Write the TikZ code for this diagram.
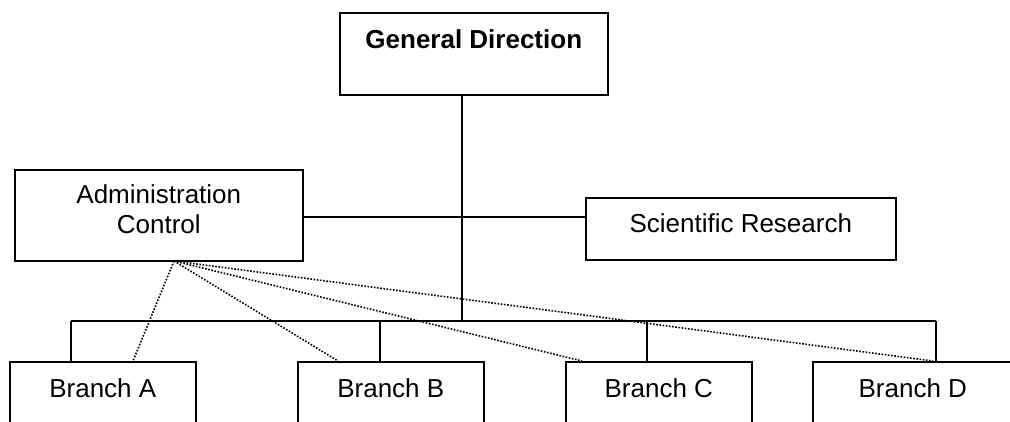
\documentclass[tikz,border=0pt]{standalone}
\usepackage{fontspec}
\setmainfont{Liberation Sans}

\begin{document}
\begin{tikzpicture}[x=1pt,y=-1pt]
	\tikzset{unit/.style={draw,line width=1.6pt,inner sep=0pt,anchor=north west,font=\fontsize{26}{29.4}\selectfont,text height=36pt,text depth=46pt}}
	\tikzset{branch/.style={unit,minimum width=186pt,text depth=60pt}}
	\tikzset{link/.style={line width=1.6pt}}
	\tikzset{sublink/.style={line width=1.6pt,dash pattern=on 1.6pt off 1.6pt}}
	\useasboundingbox (0,0) rectangle (1010,421);
	\clip (0,0) rectangle (1010,421);
	\node[unit,minimum width=268pt,font=\fontsize{26}{29.4}\selectfont\bfseries] (gd) at (339,12) {General Direction};
	\node[unit,minimum width=288pt,align=center,text height=63.4pt,text depth=28pt] (admin) at (14,169) {Administration\\Control};
	\node[unit,minimum width=310pt,text height=35pt,text depth=27pt] (sci) at (585,197) {Scientific Research};
	\node[branch] (a) at (9,361) {Branch A};
	\node[branch] (b) at (297,361) {Branch B};
	\node[branch] (c) at (565,361) {Branch C};
	\node[branch,minimum width=200pt] (d) at (812,361) {Branch D};
	\coordinate (mid) at (462,217);
	\coordinate (busA) at (71,321);
	\coordinate (busB) at (380,321);
	\coordinate (busC) at (647,321);
	\coordinate (busD) at (936,321);
	\coordinate (hub) at (174,261);
	\draw[link] (mid |- gd.south) -- (mid |- busA);
	\draw[link] (admin.east |- mid) -- (sci.west |- mid);
	\draw[link] (busA) -- (busD);
	\foreach \n/\m in {busA/a,busB/b,busC/c,busD/d}
		\draw[link] (\n) -- (\n |- \m.north);
	\draw[sublink] (hub) -- ([xshift=124pt]a.north west);
	\draw[sublink] (hub) -- ([xshift=41pt]b.north west);
	\draw[sublink] (hub) -- ([xshift=17pt]c.north west);
	\draw[sublink] (hub) -- ([xshift=121pt]d.north west);
\end{tikzpicture}
\end{document}
